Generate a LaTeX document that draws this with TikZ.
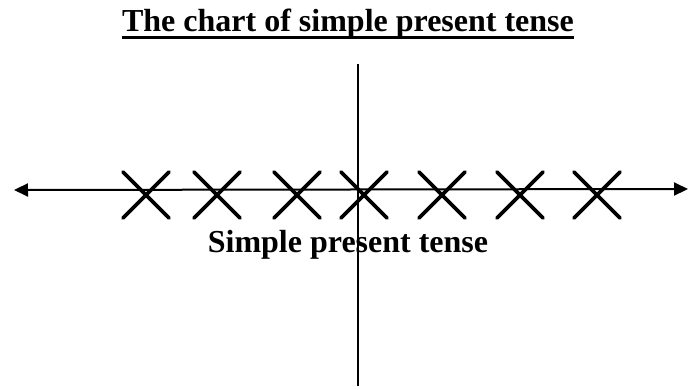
\documentclass[tikz,border=0pt]{standalone}
\usepackage{fontspec}
\setmainfont{Liberation Serif}
\usetikzlibrary{arrows.meta}
\begin{document}
\begin{tikzpicture}[x=1pt,y=-1pt,
  cross/.style={line width=3.8pt,line cap=round},
  axis/.style={line width=2pt},
  txt/.style={font=\bfseries\fontsize{32}{36}\selectfont,inner sep=0pt,anchor=base}]
\useasboundingbox (0,0) rectangle (688,390);
\node[txt] (title) at (348,31.5) {The chart of simple present tense};
\draw[line width=3pt] ([yshift=-6pt]title.base west) -- ([yshift=-6pt]title.base east);
\coordinate (vtop) at (357.6,64);
\coordinate (vbot) at (357.6,386);
\draw[axis] (vtop) -- (vbot);
\coordinate (hl) at (14,190);
\coordinate (hr) at (688,189);
\draw[axis,{Triangle[length=14pt,width=13pt]}-{Triangle[length=14pt,width=13pt]}] (hl) -- (hr);
\foreach \cx [count=\i] in {146,217,297,364,442,520,597}{
  \coordinate (c\i) at (\cx,195);
  \draw[cross] ([shift={(-23,-23)}]c\i) -- ([shift={(23,23)}]c\i);
  \draw[cross] ([shift={(-23,23)}]c\i) -- ([shift={(23,-23)}]c\i);
}
\node[txt] (lab) at (348,252) {Simple present tense};
\end{tikzpicture}
\end{document}
